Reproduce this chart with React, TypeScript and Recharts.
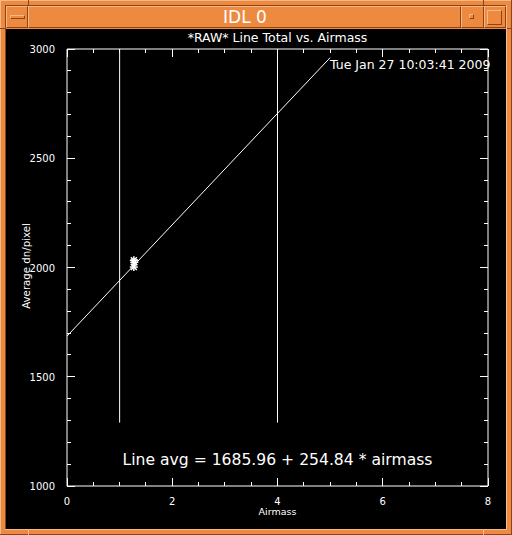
import React from 'react';
import { ComposedChart, Line, Scatter, XAxis, YAxis } from 'recharts';

// axis ticks (every tick mark), and which of them are the long labelled ones
const xTicks = [0, 0.5, 1, 1.5, 2, 2.5, 3, 3.5, 4, 4.5, 5, 5.5, 6, 6.5, 7, 7.5, 8];
const xMajorTicks = [0, 2, 4, 6, 8];
const yTicks = [1000, 1100, 1200, 1300, 1400, 1500, 1600, 1700, 1800, 1900, 2000, 2100, 2200, 2300, 2400, 2500, 2600, 2700, 2800, 2900, 3000];
const yMajorTicks = [1000, 1500, 2000, 2500, 3000];

// fitted line: 1685.96 + 254.84 * airmass, drawn from airmass 0 to 5
const fitLine = [
  { x: 0, y: 1685.96 },
  { x: 5, y: 2960.16 },
];
// vertical markers at airmass 1 and 4
const markerOne = [
  { x: 1, y: 1290 },
  { x: 1, y: 3000 },
];
const markerFour = [
  { x: 4, y: 1290 },
  { x: 4, y: 3000 },
];
// measured points
const measured = [
  { x: 1.27, y: 2033 },
  { x: 1.28, y: 2024 },
  { x: 1.27, y: 2002 },
];

const ORANGE = '#ee8a40';
const LIGHT = '#f8b98a';
const DARK = '#8c4416';
const FONT = '"DejaVu Sans", sans-serif';
const GAP = 12; // distance from the axis edge to the tick label anchor

// IDL style tick: mark points inward, long on majors, labels only on bottom/left majors
function AxisTick(props: any) {
  const { x, y, payload, side, majors, label } = props;
  const v = payload.value;
  const major = majors.includes(v);
  const len = major ? 8 : 4;
  let line;
  let text = null;
  const ts = { fill: '#fff', fontSize: 10, fontFamily: FONT };
  if (side === 'bottom') {
    const e = y - GAP;
    line = <line x1={x} y1={e} x2={x} y2={e - len} />;
    if (label && major) text = <text x={x} y={y} dy="0.71em" textAnchor="middle" style={ts}>{v}</text>;
  } else if (side === 'top') {
    const e = y + GAP;
    line = <line x1={x} y1={e} x2={x} y2={e + len} />;
  } else if (side === 'left') {
    const e = x + GAP;
    line = <line x1={e} y1={y} x2={e + len} y2={y} />;
    if (label && major) text = <text x={x} y={y} dy="0.4em" textAnchor="end" style={ts}>{v}</text>;
  } else {
    const e = x - GAP;
    line = <line x1={e} y1={y} x2={e - len} y2={y} />;
  }
  return (
    <g>
      <g stroke="#fff" strokeWidth={1} shapeRendering="crispEdges">{line}</g>
      {text}
    </g>
  );
}

function Asterisk(props: any) {
  const { cx, cy } = props;
  if (cx == null || cy == null) return null;
  const r = 4;
  const d = 3;
  return (
    <g stroke="#fff" strokeWidth={1.5}>
      <line x1={cx - r} y1={cy} x2={cx + r} y2={cy} />
      <line x1={cx} y1={cy - r} x2={cx} y2={cy + r} />
      <line x1={cx - d} y1={cy - d} x2={cx + d} y2={cy + d} />
      <line x1={cx - d} y1={cy + d} x2={cx + d} y2={cy - d} />
    </g>
  );
}

const bevel: React.CSSProperties = {
  position: 'absolute',
  boxSizing: 'border-box',
  borderTop: `1px solid ${LIGHT}`,
  borderLeft: `1px solid ${LIGHT}`,
  borderRight: `1px solid ${DARK}`,
  borderBottom: `1px solid ${DARK}`,
};

function Frame() {
  return (
    <>
      {/* outer bevel */}
      <div style={{ position: 'absolute', left: 0, top: 0, width: 512, height: 1, background: LIGHT }} />
      <div style={{ position: 'absolute', left: 0, top: 0, width: 1, height: 535, background: LIGHT }} />
      <div style={{ position: 'absolute', right: 0, top: 0, width: 1, height: 535, background: DARK }} />
      <div style={{ position: 'absolute', left: 0, bottom: 0, width: 512, height: 1, background: DARK }} />
      {/* corner notches */}
      <div style={{ position: 'absolute', left: 28, top: 0, width: 1, height: 6, background: DARK }} />
      <div style={{ position: 'absolute', left: 483, top: 0, width: 1, height: 6, background: DARK }} />
      <div style={{ position: 'absolute', left: 0, top: 28, width: 6, height: 1, background: DARK }} />
      <div style={{ position: 'absolute', right: 0, top: 28, width: 6, height: 1, background: DARK }} />
      <div style={{ position: 'absolute', left: 28, bottom: 0, width: 1, height: 6, background: LIGHT }} />
      <div style={{ position: 'absolute', left: 483, bottom: 0, width: 1, height: 6, background: LIGHT }} />
      {/* inner bevel */}
      <div style={{ position: 'absolute', left: 5, top: 5, width: 502, height: 1, background: DARK }} />
      <div style={{ position: 'absolute', left: 5, top: 5, width: 1, height: 525, background: DARK }} />
      <div style={{ position: 'absolute', left: 506, top: 5, width: 1, height: 525, background: LIGHT }} />
      <div style={{ position: 'absolute', left: 5, top: 529, width: 502, height: 1, background: LIGHT }} />
      {/* title bar */}
      <div style={{ ...bevel, left: 6, top: 6, width: 22, height: 22 }} />
      <div style={{ ...bevel, left: 10, top: 15, width: 15, height: 4 }} />
      <div style={{ ...bevel, left: 28, top: 6, width: 433, height: 22 }} />
      <div style={{ ...bevel, left: 461, top: 6, width: 23, height: 22 }} />
      <div style={{ ...bevel, left: 469, top: 14, width: 5, height: 5 }} />
      <div style={{ ...bevel, left: 484, top: 6, width: 22, height: 22 }} />
      <div style={{ ...bevel, left: 487, top: 10, width: 15, height: 15 }} />
      <div style={{ position: 'absolute', left: 29, top: 6, width: 432, height: 23, lineHeight: '23px', textAlign: 'center', color: '#fff', fontFamily: FONT, fontSize: 17 }}>
        IDL 0
      </div>
      {/* plot window */}
      <div style={{ position: 'absolute', left: 6, top: 29, width: 500, height: 500, background: '#000' }} />
    </>
  );
}

export default function App() {
  const textBase: React.CSSProperties = { position: 'absolute', color: '#fff', fontFamily: FONT, whiteSpace: 'nowrap' };
  const white = { stroke: '#fff' };
  return (
    <div style={{ position: 'fixed', left: 0, top: 0, width: 512, height: 535, background: ORANGE, overflow: 'hidden' }}>
      <Frame />
      <div style={{ position: 'absolute', left: 0, top: 0 }}>
        <ComposedChart width={512} height={535} margin={{ top: 48, right: 23, bottom: 19, left: 27 }}>
          <XAxis xAxisId="b" type="number" dataKey="x" domain={[0, 8]} allowDataOverflow ticks={xTicks} interval={0}
            orientation="bottom" height={30} axisLine={white} tickLine={false} tickSize={0} tickMargin={GAP}
            tick={<AxisTick side="bottom" majors={xMajorTicks} label />} />
          <XAxis xAxisId="t" type="number" dataKey="x" domain={[0, 8]} allowDataOverflow ticks={xTicks} interval={0}
            orientation="top" height={1} axisLine={white} tickLine={false} tickSize={0} tickMargin={GAP}
            tick={<AxisTick side="top" majors={xMajorTicks} />} />
          <YAxis yAxisId="l" type="number" dataKey="y" domain={[1000, 3000]} allowDataOverflow ticks={yTicks} interval={0}
            orientation="left" width={40} axisLine={white} tickLine={false} tickSize={0} tickMargin={GAP}
            tick={<AxisTick side="left" majors={yMajorTicks} label />} />
          <YAxis yAxisId="r" type="number" dataKey="y" domain={[1000, 3000]} allowDataOverflow ticks={yTicks} interval={0}
            orientation="right" width={1} axisLine={white} tickLine={false} tickSize={0} tickMargin={GAP}
            tick={<AxisTick side="right" majors={yMajorTicks} />} />

          <Line xAxisId="b" yAxisId="l" data={markerOne} dataKey="y" type="linear" stroke="#fff" strokeWidth={1} dot={false} isAnimationActive={false} />
          <Line xAxisId="b" yAxisId="l" data={markerFour} dataKey="y" type="linear" stroke="#fff" strokeWidth={1} dot={false} isAnimationActive={false} />
          <Line xAxisId="b" yAxisId="l" data={fitLine} dataKey="y" type="linear" stroke="#fff" strokeWidth={1} dot={false} isAnimationActive={false} />
          <Scatter xAxisId="b" yAxisId="l" data={measured} dataKey="y" shape={<Asterisk />} isAnimationActive={false} />
        </ComposedChart>
      </div>
      <div style={{ ...textBase, left: 67, width: 421, top: 30, textAlign: 'center', fontSize: 12.5 }}>*RAW* Line Total vs. Airmass</div>
      <div style={{ ...textBase, left: 330, top: 57, fontSize: 12.5 }}>Tue Jan 27 10:03:41 2009</div>
      <div style={{ ...textBase, left: 67, width: 421, top: 451, textAlign: 'center', fontSize: 15.6 }}>Line avg = 1685.96 + 254.84 * airmass</div>
      <div style={{ ...textBase, left: 67, width: 421, top: 506, textAlign: 'center', fontSize: 9.5 }}>Airmass</div>
      <div style={{ ...textBase, left: 27 - 100, width: 200, top: 266 - 7, height: 14, lineHeight: '14px', textAlign: 'center', fontSize: 10.2, transform: 'rotate(-90deg)' }}>
        Average dn/pixel
      </div>
    </div>
  );
}
